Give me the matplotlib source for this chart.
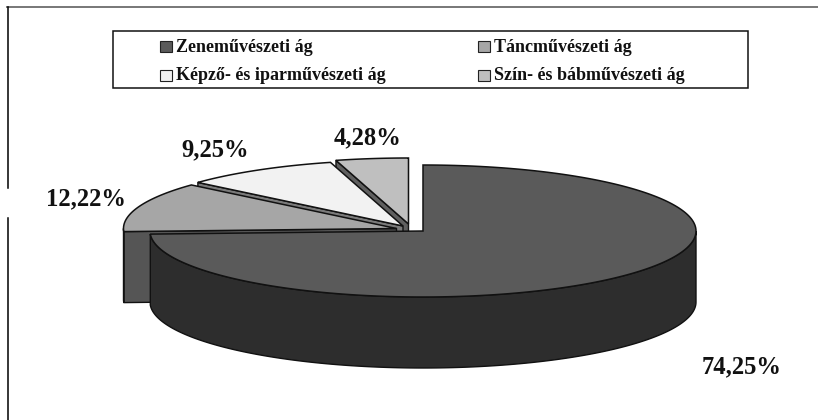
import numpy as np
import matplotlib
matplotlib.use("Agg")
import matplotlib.pyplot as plt
from matplotlib.patches import Polygon, Rectangle

labels = ["Zeneművészeti ág", "Táncművészeti ág", "Képző- és iparművészeti ág", "Szín- és bábművészeti ág"]
values = [74.25, 12.22, 9.25, 4.28]
value_labels = ["74,25%", "12,22%", "9,25%", "4,28%"]
top_colors = ["#5a5a5a", "#a6a6a6", "#f2f2f2", "#bfbfbf"]
rim_colors = ["#2d2d2d", "#555555", "#7a7a7a", "#5f5f5f"]

# apex of each exploded slice, in pixels
centers = [(423, 231), (396.5, 228.5), (403, 226), (408.5, 224)]
label_pos = [(742, 367), (86, 199), (215.5, 150), (368, 138)]

rx = 273
ry = 66
depth = 71

plt.rcParams["font.family"] = ["Liberation Serif", "DejaVu Serif"]
fig = plt.figure(figsize=(8.18, 4.2), dpi=100)
ax = fig.add_axes([0, 0, 1, 1])
ax.set_xlim(0, 818)
ax.set_ylim(420, 0)
ax.axis("off")


def rim(c, a0, a1):
    # angles clockwise from 12 o'clock
    t = np.radians(np.linspace(a0, a1, 200))
    return np.column_stack([c[0] + rx * np.sin(t), c[1] - ry * np.cos(t)])


starts = np.cumsum([0] + values[:-1]) * 3.6
ends = np.cumsum(values) * 3.6
z = 1
# back to front: last slice first, the big one on top
for i in [3, 2, 1, 0]:
    c = centers[i]
    arc = rim(c, starts[i], ends[i])
    low = np.array([0, depth])
    # radial wall, only the start side of the small slices shows
    if i > 0:
        p = arc[0]
        wall = np.array([c, p, p + low, np.array(c) + low])
        ax.add_patch(Polygon(wall, fc=rim_colors[i], ec="#111111", lw=1, zorder=z, joinstyle="round"))
    # outer wall, only where it faces the viewer
    t0, t1 = max(starts[i], 90), min(ends[i], 270)
    if t1 > t0:
        front = rim(c, t0, t1)
        ax.add_patch(Polygon(np.vstack([front, (front + low)[::-1]]), fc=rim_colors[i], ec="#111111", lw=1, zorder=z + 1))
    ax.add_patch(Polygon(np.vstack([c, arc]), fc=top_colors[i], ec="#111111", lw=1.1, zorder=z + 2))
    z += 3

for (x, y), s in zip(label_pos, value_labels):
    ax.text(x, y, s, ha="center", va="center", fontsize=17.7, fontweight="bold", color="#111111", zorder=50)

# outer frame, broken on the left
ax.plot([7, 818], [6.5, 6.5], color="#777777", lw=1.4)
ax.plot([7.5, 7.5], [7, 188], color="black", lw=1.1)
ax.plot([7.5, 7.5], [218, 420], color="black", lw=1.1)

# legend box
ax.add_patch(Rectangle((112.5, 30.5), 635, 57.5, fc="white", ec="#111111", lw=1.1, zorder=40))
leg_x = [160, 478]
leg_y = [46, 75]
for i, (col, row) in enumerate([(0, 0), (1, 0), (0, 1), (1, 1)]):
    x = leg_x[col]
    y = leg_y[row]
    ax.add_patch(Rectangle((x, y - 5.5), 11.5, 11, fc=top_colors[i], ec="#222222", lw=0.8, zorder=41))
    ax.text(x + 16.5, y + 1, labels[i], ha="left", va="center", fontsize=13, fontweight="bold", color="#111111", zorder=41)

fig.savefig("out.png", dpi=100)
